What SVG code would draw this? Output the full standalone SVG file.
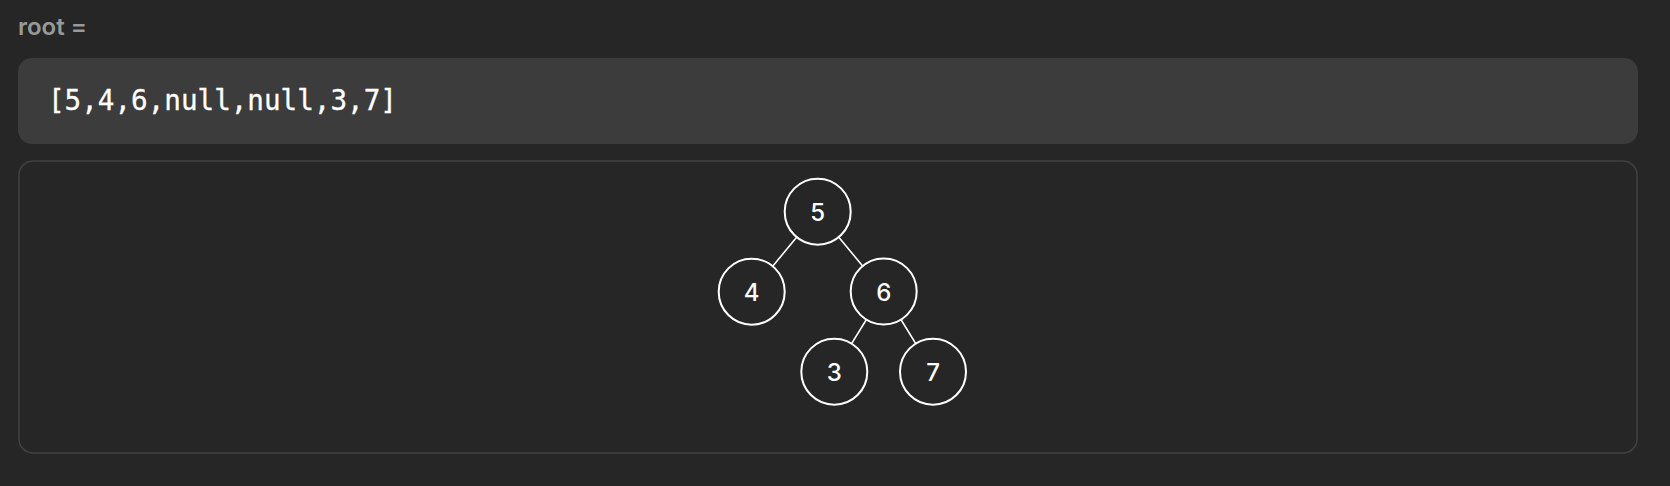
<svg xmlns="http://www.w3.org/2000/svg" width="1670" height="486" viewBox="0 0 1670 486">
<style>
.bg{fill:#262626}
.lbl{font-family:Inter,"Liberation Sans",sans-serif;font-weight:600;font-size:24px;fill:#999999}
.code{font-family:"DejaVu Sans Mono","Liberation Mono",monospace;font-size:27.6px;fill:#ffffff;stroke:#ffffff;stroke-width:0.3}
.node circle{fill:#262626;stroke:#ffffff;stroke-width:2}
.node text{font-family:Inter,"Liberation Sans",sans-serif;font-weight:500;font-size:24px;fill:#ffffff;text-anchor:middle}
.edge{stroke:#ffffff;stroke-width:1.6}
</style>
<rect class="bg" x="0" y="0" width="1670" height="486"/>
<text class="lbl" x="18" y="35">root =</text>
<rect x="18" y="58" width="1620" height="86" rx="14" fill="#3c3c3c"/>
<text class="code" x="48" y="110">[5,4,6,null,null,3,7]</text>
<rect x="19" y="161" width="1618" height="292" rx="14" fill="none" stroke="#414141" stroke-width="1.5"/>
<g id="connectors">
<line class="edge" x1="817.7" y1="211.7" x2="751.7" y2="291.7"/>
<line class="edge" x1="817.7" y1="211.7" x2="883.7" y2="291.5"/>
<line class="edge" x1="883.7" y1="291.5" x2="834.3" y2="371.7"/>
<line class="edge" x1="883.7" y1="291.5" x2="933" y2="371.7"/>
</g>
<g id="n5" class="node"><circle cx="817.7" cy="211.7" r="33"/><text x="817.7" y="220.5">5</text></g>
<g id="n4" class="node"><circle cx="751.7" cy="291.7" r="33"/><text x="751.7" y="300.5">4</text></g>
<g id="n6" class="node"><circle cx="883.7" cy="291.5" r="33"/><text x="883.7" y="300.5">6</text></g>
<g id="n3" class="node"><circle cx="834.3" cy="371.7" r="33"/><text x="834.3" y="380.5">3</text></g>
<g id="n7" class="node"><circle cx="933" cy="371.7" r="33"/><text x="933" y="380.5">7</text></g>
</svg>
